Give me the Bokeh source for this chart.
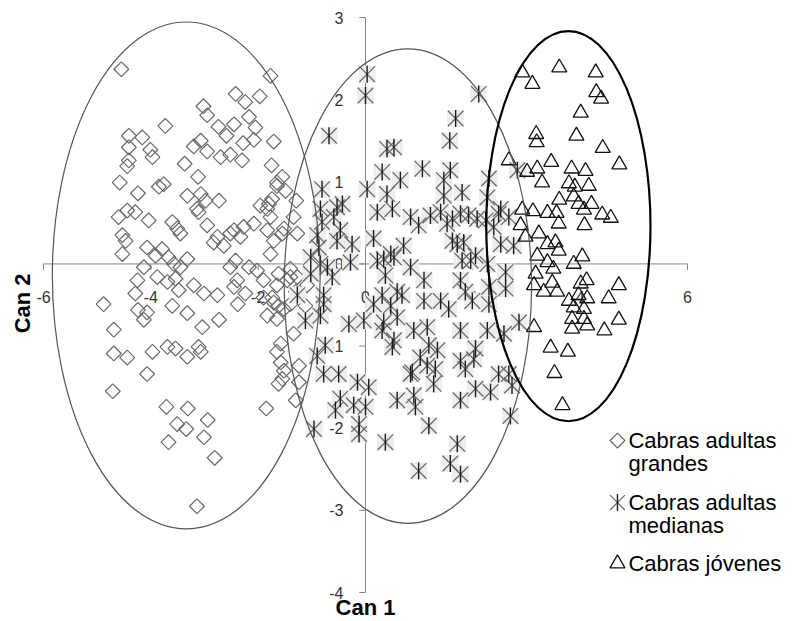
import numpy as np
from bokeh.plotting import figure
from bokeh.models import Range1d, Label
from bokeh.core.properties import value
from bokeh.embed import file_html
from bokeh.resources import INLINE

# ---------------- data ----------------
x_ticks = [-6, -4, -2, 0, 2, 4, 6]
x_labels = ["-6", "-4", "-2", "0", "2", "4", "6"]
y_ticks = [3, 2, 1, 0, -1, -2, -3, -4]
y_labels = ["3", "2", "1", "0", "-1", "-2", "-3", "-4"]

series_names = ["Cabras adultas grandes", "Cabras adultas medianas", "Cabras jóvenes"]
legend_lines = [["Cabras adultas", "grandes"], ["Cabras adultas", "medianas"], ["Cabras jóvenes"]]

grandes_x = [
    -4.55, -1.77, -2.42, -2.24, -1.97, -3.02, -2.95, -2.17, -3.73, -2.74,
    -2.45, -2.05, -2.59, -4.41, -4.16, -3.07, -3.20, -2.28, -2.08, -1.71,
    -4.41, -4.01, -2.95, -2.70, -2.52, -4.41, -3.97, -2.30, -4.44, -3.37,
    -1.75, -1.55, -3.12, -4.58, -3.85, -3.76, -1.65, -1.49, -4.24, -3.32,
    -3.07, -2.98, -2.73, -1.74, -1.96, -1.29, -4.60, -4.44, -4.29, -3.14,
    -3.11, -4.04, -2.95, -3.60, -3.51, -3.45, -1.83, -1.77, -2.08, -2.27,
    -2.45, -2.52, -2.76, -2.83, -2.64, -2.33, -1.83, -1.71, -1.27, -1.34,
    -1.55, -1.77, -4.53, -4.47, -4.53, -4.07, -3.79, -3.91, -3.67, -3.57,
    -3.45, -3.32, -4.13, -2.52, -2.42, -2.17, -2.02, -4.25, -3.88, -3.69,
    -3.54, -3.48, -3.20, -3.01, -2.76, -2.39, -2.45, -2.24, -1.62, -1.40,
    -1.65, -4.88, -4.29, -4.24, -4.07, -3.32, -2.38, -1.90, -1.71, -4.13,
    -3.60, -2.73, -3.04, -4.69, -4.69, -4.44, -3.97, -3.69, -3.54, -3.32,
    -3.11, -3.07, -4.07, -4.71, -3.71, -3.31, -2.94, -3.51, -3.34, -3.67,
    -3.01, -2.81, -3.14, -1.85, -1.83, -1.65, -1.58, -1.65, -1.58, -1.52,
    -1.55, -1.62, -1.34, -1.24, -1.24, -1.30, -1.52, -1.65, -1.80, -1.52,
    -1.40, -1.27, -1.46, -1.09, -1.30, -1.90, -1.62, -1.74, -1.40, -1.12,
]
grandes_y = [
    2.37, 2.29, 2.07, 1.97, 2.04, 1.92, 1.81, 1.79, 1.68, 1.67,
    1.70, 1.66, 1.56, 1.56, 1.54, 1.50, 1.43, 1.47, 1.51, 1.49,
    1.42, 1.39, 1.37, 1.30, 1.33, 1.26, 1.30, 1.26, 1.19, 1.22,
    1.20, 1.06, 1.06, 0.99, 0.94, 0.97, 0.95, 0.89, 0.86, 0.83,
    0.85, 0.77, 0.77, 0.79, 0.71, 0.77, 0.57, 0.65, 0.63, 0.67,
    0.63, 0.53, 0.47, 0.51, 0.43, 0.37, 0.67, 0.57, 0.49, 0.45,
    0.41, 0.37, 0.33, 0.26, 0.22, 0.33, 0.41, 0.28, 0.37, 0.57,
    0.37, 0.12, 0.35, 0.28, 0.12, 0.20, 0.18, 0.10, 0.08, 0.00,
    -0.04, 0.06, -0.04, -0.04, 0.04, -0.04, -0.08, -0.20, -0.16, -0.22,
    -0.18, -0.32, -0.26, -0.36, -0.38, -0.20, -0.28, -0.36, -0.12, -0.16,
    -0.26, -0.49, -0.36, -0.56, -0.59, -0.60, -0.49, -0.41, -0.47, -0.68,
    -0.51, -0.68, -0.77, -0.80, -1.09, -1.14, -1.07, -1.01, -1.03, -1.13,
    -1.01, -1.07, -1.34, -1.55, -1.74, -1.76, -1.90, -1.95, -2.01, -2.17,
    -2.11, -2.36, -2.95, -1.76, -0.63, -0.67, -0.97, -1.07, -1.20, -1.30,
    -1.40, -1.46, -0.85, -1.24, -1.44, -1.66, -0.55, 0.99, 0.73, 0.43,
    -0.06, -0.16, -0.20, -0.26, -0.34, -0.20, -0.51, -0.41, -0.49, -0.51,
]

medianas_x = [
    0.03, 0.00, 2.11, 1.68, -0.68, 1.57, 0.40, 0.53, 0.31, 1.06,
    1.58, 2.83, 0.65, 1.46, 2.30, -0.81, 0.03, 0.40, 1.46, 1.80,
    2.27, -0.53, -0.43, -0.84, 0.22, 0.50, 2.52, 1.21, 1.40, 1.77,
    1.92, 2.08, 2.48, 2.67, -0.59, -0.81, 0.99, 1.52, 2.39, -0.47,
    -0.90, 0.15, -0.53, -0.25, 0.71, 1.62, 1.71, 1.83, 2.52, 2.76,
    -0.87, 0.47, 2.05, -1.02, -0.28, 0.34, 0.53, -0.84, -0.71, 0.84,
    1.80, 1.96, 2.27, -1.02, -0.62, 0.37, 2.61, 1.09, 1.77, 2.30,
    2.61, 0.59, 1.86, -1.27, -0.78, 0.31, 0.68, -0.78, 0.47, 1.09,
    1.40, 1.99, 2.30, 1.55, -0.84, -1.12, -0.31, -0.03, 0.34, 0.59,
    2.86, 0.31, 0.90, 1.15, 1.77, 2.27, 2.58, 0.53, -0.75, 0.50,
    1.18, 1.34, 2.05, -0.90, 1.02, 1.77, 2.02, 0.87, 1.15, 1.30,
    1.86, 2.48, 2.67, -0.78, -0.50, -0.15, 0.06, 0.84, 1.27, 2.05,
    2.33, 2.73, -0.47, 0.59, 0.90, 0.93, 1.77, -0.22, 0.00, -0.56,
    2.70, -0.12, 1.18, -0.96, -0.12, 0.37, 1.71, 1.58, 0.99, 1.77,
    0.84, 1.62, 2.24, 0.22, 0.15,
]
medianas_y = [
    2.31, 2.05, 2.07, 1.77, 1.56, 1.50, 1.40, 1.42, 1.12, 1.16,
    1.14, 1.14, 1.02, 1.02, 1.04, 0.91, 0.91, 0.85, 0.83, 0.87,
    0.81, 0.69, 0.73, 0.67, 0.63, 0.67, 0.67, 0.59, 0.63, 0.61,
    0.59, 0.55, 0.61, 0.57, 0.57, 0.51, 0.47, 0.49, 0.45, 0.41,
    0.35, 0.31, 0.28, 0.24, 0.22, 0.28, 0.24, 0.26, 0.24, 0.22,
    0.20, 0.12, 0.10, 0.08, 0.02, 0.06, 0.08, 0.00, -0.04, -0.04,
    0.04, 0.04, 0.00, -0.12, -0.16, -0.14, -0.10, -0.20, -0.20, -0.28,
    -0.30, -0.34, -0.34, -0.38, -0.38, -0.38, -0.38, -0.49, -0.51, -0.45,
    -0.45, -0.45, -0.49, -0.55, -0.63, -0.69, -0.73, -0.69, -0.71, -0.65,
    -0.71, -0.81, -0.81, -0.77, -0.81, -0.81, -0.85, -0.93, -0.99, -1.01,
    -0.99, -1.05, -1.03, -1.12, -1.14, -1.18, -1.16, -1.32, -1.24, -1.28,
    -1.28, -1.34, -1.34, -1.34, -1.34, -1.44, -1.50, -1.34, -1.46, -1.52,
    -1.56, -1.48, -1.64, -1.66, -1.60, -1.74, -1.66, -1.72, -1.74, -1.78,
    -1.85, -1.95, -1.97, -2.01, -2.07, -2.17, -2.19, -2.43, -2.52, -2.56,
    0.57, 0.55, 0.53, 0.04, -0.49,
]

jovenes_x = [
    2.92, 3.61, 4.29, 3.11, 4.30, 4.39, 4.01, 3.18, 3.19, 3.93,
    4.42, 4.73, 2.67, 3.46, 3.20, 3.01, 3.84, 4.10, 3.29, 3.79,
    3.90, 4.16, 3.61, 3.88, 3.97, 4.21, 4.07, 2.92, 3.12, 3.39,
    3.56, 4.41, 4.57, 3.60, 4.08, 2.89, 3.23, 2.98, 3.39, 3.54,
    3.60, 3.20, 4.04, 3.39, 3.88, 3.50, 3.17, 4.12, 4.01, 3.48,
    3.14, 4.72, 3.32, 3.57, 3.97, 4.13, 3.79, 4.53, 4.07, 3.88,
    3.85, 4.07, 4.72, 4.13, 3.85, 4.45, 3.14, 3.45, 3.77, 3.52,
    3.67,
]
jovenes_y = [
    2.33, 2.39, 2.33, 2.19, 2.09, 2.01, 1.84, 1.58, 1.48, 1.56,
    1.41, 1.21, 1.26, 1.24, 1.16, 1.12, 1.16, 1.13, 0.99, 0.98,
    0.94, 0.95, 0.78, 0.82, 0.73, 0.73, 0.66, 0.66, 0.64, 0.62,
    0.62, 0.60, 0.56, 0.49, 0.47, 0.47, 0.37, 0.33, 0.24, 0.26,
    0.16, 0.10, 0.09, 0.02, 0.00, -0.06, -0.12, -0.20, -0.24, -0.23,
    -0.26, -0.26, -0.34, -0.34, -0.38, -0.42, -0.45, -0.42, -0.55, -0.53,
    -0.67, -0.67, -0.68, -0.75, -0.79, -0.81, -0.77, -1.02, -1.07, -1.33,
    -1.72,
]

# group ellipses (center x, center y, width, height) in Can units
ell_cx = [-3.34, 0.79, 3.78]
ell_cy = [-0.14, -0.27, 0.46]
ell_w = [4.99, 4.61, 3.06]
ell_h = [6.17, 5.78, 4.75]

assert len(grandes_x) == len(grandes_y)
assert len(medianas_x) == len(medianas_y)
assert len(jovenes_x) == len(jovenes_y)

# ---------------- figure ----------------
FONT = value("Liberation Sans")
p = figure(width=792, height=621, output_backend="svg", toolbar_location=None,
           x_range=Range1d(-6.801, 7.956), y_range=Range1d(-4.353, 3.207),
           min_border=0, outline_line_color=None)
p.axis.visible = False
p.grid.visible = False
p.background_fill_color = "white"
p.border_fill_color = "white"

AXIS_COLOR = "#868686"
# axis lines crossing at the origin
p.segment(x0=[x_ticks[0]], y0=[0], x1=[x_ticks[-1]], y1=[0], line_color=AXIS_COLOR, line_width=1)
p.segment(x0=[0], y0=[y_ticks[-1]], x1=[0], y1=[y_ticks[0]], line_color=AXIS_COLOR, line_width=1)
# tick marks (outside)
TX = 0.075   # ~6px in y units
TY = 0.115   # ~6px in x units
p.segment(x0=x_ticks, y0=[0] * len(x_ticks), x1=x_ticks, y1=[-TX] * len(x_ticks),
          line_color=AXIS_COLOR, line_width=1)
p.segment(x0=[0] * len(y_ticks), y0=y_ticks, x1=[-TY] * len(y_ticks), y1=y_ticks,
          line_color=AXIS_COLOR, line_width=1)
# tick labels
p.text(x=x_ticks, y=[0] * len(x_ticks), text=x_labels, y_offset=33,
       text_align="center", text_baseline="middle", text_font=FONT,
       text_font_size="16px", text_color="#333333")
p.text(x=[0] * len(y_ticks), y=y_ticks, text=y_labels, x_offset=-22,
       text_align="right", text_baseline="middle", text_font=FONT,
       text_font_size="16px", text_color="#333333")

# series
p.scatter(grandes_x, grandes_y, marker="square", angle=np.pi / 4, size=10.5,
          fill_color=None, line_color="#6a6a6a", line_width=1.2)
p.scatter(medianas_x, medianas_y, marker="square", size=17,
          fill_color="#eeeeee", line_color=None)
p.scatter(medianas_x, medianas_y, marker="x", size=22,
          line_color="#6a6a6a", line_width=1.3)
p.scatter(medianas_x, medianas_y, marker="dash", angle=np.pi / 2, size=17,
          line_color="#1a1a1a", line_width=1.4)
p.scatter(jovenes_x, jovenes_y, marker="triangle", size=15,
          fill_color=None, line_color="#111111", line_width=1.3)

# ellipses
p.ellipse(x=ell_cx[:2], y=ell_cy[:2], width=ell_w[:2], height=ell_h[:2],
          fill_color=None, line_color="#555555", line_width=1.2)
p.ellipse(x=ell_cx[2:], y=ell_cy[2:], width=ell_w[2:], height=ell_h[2:],
          fill_color=None, line_color="#000000", line_width=2.2)

# axis titles
p.add_layout(Label(x=0, y=-4.18, text="Can 1", text_align="center", text_baseline="middle",
                   text_font="Liberation Sans", text_font_style="bold",
                   text_font_size="22px", text_color="#000000"))
p.add_layout(Label(x=-6.39, y=-0.48, text="Can 2", angle=np.pi / 2,
                   text_align="center", text_baseline="middle",
                   text_font="Liberation Sans", text_font_style="bold",
                   text_font_size="22px", text_color="#000000"))

# legend (manual)
LX = 4.695
TXL = 4.90
leg_y = [-2.15, -2.905, -3.647]
line_gap = 0.28
p.scatter([LX], [leg_y[0]], marker="square", angle=np.pi / 4, size=10.5,
          fill_color=None, line_color="#6a6a6a", line_width=1.2)
p.scatter([LX], [leg_y[1]], marker="x", size=21, line_color="#6a6a6a", line_width=1.3)
p.scatter([LX], [leg_y[1]], marker="dash", angle=np.pi / 2, size=17,
          line_color="#1a1a1a", line_width=1.4)
p.scatter([LX], [leg_y[2]], marker="triangle", size=15,
          fill_color=None, line_color="#111111", line_width=1.3)
tx, ty, tt = [], [], []
for yy, lines in zip(leg_y, legend_lines):
    for k, s in enumerate(lines):
        tx.append(TXL)
        ty.append(yy - k * line_gap)
        tt.append(s)
p.text(x=tx, y=ty, text=tt, text_align="left", text_baseline="middle",
       text_font=FONT, text_font_size="22px", text_color="#000000")

open("out.html", "w").write(file_html(p, INLINE))
